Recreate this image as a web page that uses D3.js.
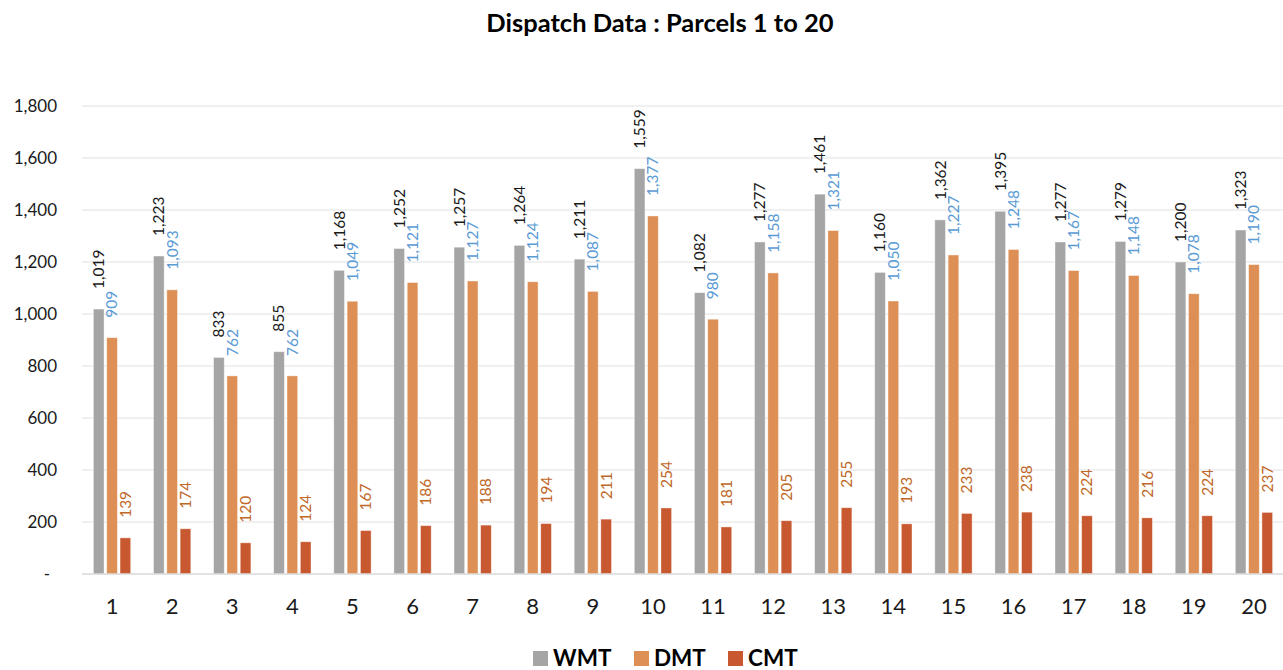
<!DOCTYPE html>
<html><head><meta charset="utf-8">
<script src="https://cdn.jsdelivr.net/npm/d3@7"></script>
<style>body{margin:0;background:#fff}svg{display:block}</style>
</head><body>
<svg id="c" width="1283" height="670"></svg>
<script>
const categories = ["1","2","3","4","5","6","7","8","9","10","11","12","13","14","15","16","17","18","19","20"];
const seriesNames = ["WMT","DMT","CMT"];
const WMT = [1019,1223,833,855,1168,1252,1257,1264,1211,1559,1082,1277,1461,1160,1362,1395,1277,1279,1200,1323];
const DMT = [909,1093,762,762,1049,1121,1127,1124,1087,1377,980,1158,1321,1050,1227,1248,1167,1148,1078,1190];
const CMT = [139,174,120,124,167,186,188,194,211,254,181,205,255,193,233,238,224,216,224,237];
const yTicks = [0,200,400,600,800,1000,1200,1400,1600,1800];
const title = "Dispatch Data : Parcels 1 to 20";

(function () {
const seriesValues = [WMT, DMT, CMT];
const barColors = ["#A5A5A5", "#DE8F55", "#C8582F"];
const labelColors = ["#1a1a1a", "#5B9BD5", "#C0682A"];
const font = "Lato, sans-serif";

const svg = d3.select("#c");
const mLeft = 82, mRight = 1284, mTop = 106, mBottom = 574;
const x = d3.scaleBand().domain(categories).range([mLeft, mRight]).paddingInner(0).paddingOuter(0);
const xs = d3.scaleBand().domain(seriesNames).range([0, 37.3]).paddingInner(0.2);
const y = d3.scaleLinear().domain([0, 1800]).range([mBottom, mTop]);

svg.append("g").selectAll("line").data(yTicks.filter(d => d > 0)).join("line")
  .attr("x1", mLeft).attr("x2", 1283).attr("y1", d => y(d)).attr("y2", d => y(d))
  .attr("stroke", "#EBEBEB").attr("stroke-width", 1.3);

const fmt = d3.format(",");
svg.append("g").selectAll("text").data(yTicks).join("text")
  .attr("x", d => d === 0 ? 50 : 57).attr("y", d => y(d)).attr("dy", "0.35em")
  .attr("text-anchor", "end").attr("font-family", font).attr("font-size", 17).attr("fill", "#1a1a1a")
  .text(d => d === 0 ? "-" : fmt(d));

const groups = svg.append("g").selectAll("g").data(categories).join("g")
  .attr("transform", c => `translate(${x(c) + (x.bandwidth() - 37.3) / 2},0)`);
seriesNames.forEach((s, si) => {
  groups.append("rect")
    .attr("x", xs(s)).attr("width", xs.bandwidth())
    .attr("y", (c, i) => y(seriesValues[si][i]))
    .attr("height", (c, i) => y(0) - y(seriesValues[si][i]))
    .attr("fill", barColors[si]).attr("stroke", "#fff").attr("stroke-opacity", 0.5).attr("stroke-width", 0.8);
  groups.append("text")
    .attr("transform", (c, i) => `translate(${xs(s) + xs.bandwidth() / 2},${y(seriesValues[si][i]) - 20}) rotate(-90)`)
    .attr("dy", "0.35em").attr("text-anchor", "start")
    .attr("font-family", font).attr("font-size", 15.5).attr("fill", labelColors[si])
    .text((c, i) => fmt(seriesValues[si][i]));
});

svg.append("line").attr("x1", mLeft).attr("x2", 1283).attr("y1", y(0)).attr("y2", y(0))
  .attr("stroke", "#D9D9D9").attr("stroke-width", 1.5);

svg.append("g").selectAll("text").data(categories).join("text")
  .attr("x", c => x(c) + x.bandwidth() / 2).attr("y", 614).attr("text-anchor", "middle")
  .attr("font-family", font).attr("font-size", 22).attr("fill", "#1a1a1a").text(c => c);

svg.append("text").attr("x", 660).attr("y", 32).attr("text-anchor", "middle")
  .attr("font-family", font).attr("font-weight", "bold").attr("font-size", 25.5).attr("fill", "#000")
  .text(title);

const legX = [533, 634, 728];
const leg = svg.append("g").selectAll("g").data(seriesNames).join("g")
  .attr("transform", (d, i) => `translate(${legX[i]},651)`);
leg.append("rect").attr("width", 15).attr("height", 15).attr("fill", (d, i) => barColors[i]);
leg.append("text").attr("x", 20).attr("y", 15).attr("font-family", font).attr("font-weight", "bold")
  .attr("font-size", 22.5).attr("fill", "#000").text(d => d);
})();
</script>
</body></html>
